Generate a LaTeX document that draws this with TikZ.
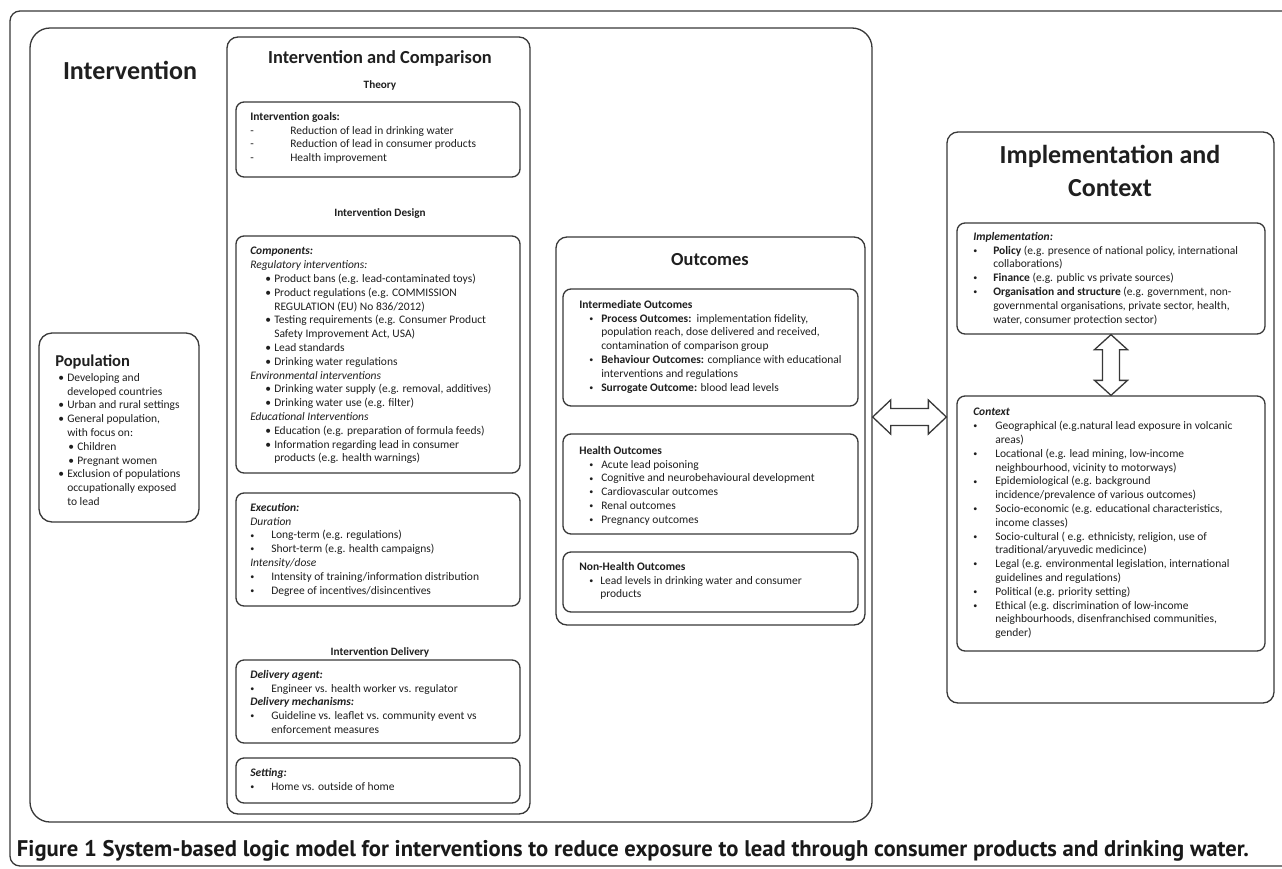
\documentclass[tikz,border=0pt]{standalone}
\usepackage{fontspec}
\setmainfont{Carlito}
\newfontfamily\capfont{PT Sans}
\usetikzlibrary{fit,calc}
\newdimen\px \px=0.75pt
\newcommand\Bul[3]{\hspace*{#1\px}\makebox[#2\px][l]{\textbullet}#3}
\newcommand\SBul[3]{\hspace*{#1\px}\makebox[#2\px][l]{\raisebox{0.6pt}{\scalebox{0.7}{\textbullet}}}#3}
\newcommand\Cont[2]{\hspace*{#1\px}#2}
\newcommand\Dash[1]{\makebox[40\px][l]{-}#1}
\tikzset{
  outline/.style={draw=black!78, line width=1.3\px},
  box/.style={outline, rounded corners=8\px, inner sep=0pt},
  bigbox/.style={outline, rounded corners=20\px, inner sep=0pt},
  midbox/.style={outline, rounded corners=11\px, inner sep=0pt},
  txt/.style={anchor=north west, inner sep=0pt, align=left, text=black!88,
    font=\fontsize{8.625pt}{10.35pt}\selectfont},
  subhd/.style={inner sep=0pt, text=black!88, font=\bfseries\fontsize{8.4pt}{10pt}\selectfont},
  midhd/.style={inner sep=0pt, text=black!88, font=\bfseries\fontsize{13.8pt}{16pt}\selectfont},
  bighd/.style={inner sep=0pt, text=black!88, align=center, font=\bfseries\fontsize{19.5pt}{24.75pt}\selectfont},
  arrowshape/.style={outline, fill=white, line join=miter},
}
\begin{document}
\begin{tikzpicture}[x=0.75pt, y=-0.75pt]
\useasboundingbox (0,0) rectangle (1282,868);
\fill[white] (0,0) rectangle (1282,868);
\clip (0,0) rectangle (1282,868);

% outer frame
\node[outline, rounded corners=10\px, inner sep=0pt, fit={(10,11) (1320,866)}] (frame) {};

% Intervention big box
\node[bigbox, fit={(30,28) (872,822)}] (interv) {};
\node[bighd] (intervtitle) at (130,70) {Intervention};

% Population
\node[box, rounded corners=13\px, fit={(39,333) (199,522)}] (pop) {};
\node[anchor=north west, inner sep=0pt, text=black!88, font=\bfseries\fontsize{12.4pt}{14pt}\selectfont] (poptitle) at (55,355) {Population};
\node[txt] (poptxt) at (58,373) {\Bul{0}{9}{Developing and}\\ \Cont{9}{developed countries}\\ \Bul{0}{9}{Urban and rural settings}\\ \Bul{0}{9}{General population,}\\ \Cont{9}{with focus on:}\\ \Bul{10}{9}{Children}\\ \Bul{10}{9}{Pregnant women}\\ \Bul{0}{9}{Exclusion of populations}\\ \Cont{9}{occupationally exposed}\\ \Cont{9}{to lead}};

% Intervention and Comparison
\node[midbox, fit={(227,37) (530,814)}] (comp) {};
\node[midhd] (comptitle) at (380,58) {Intervention and Comparison};
\node[subhd] (theory) at (380,85) {Theory};
\node[box, fit={(236,102) (520,177)}] (goals) {};
\node[txt] (goalstxt) at (250,112) {\textbf{Intervention goals:}\\ \Dash{Reduction of lead in drinking water}\\ \Dash{Reduction of lead in consumer products}\\ \Dash{Health improvement}};
\node[subhd] (design) at (380,214) {Intervention Design};
\node[box, fit={(236,236) (520,473)}] (compo) {};
\node[txt] (compotxt) at (250,247) {\textbf{\textit{Components:}}\\
\textit{Regulatory interventions:}\\
\Bul{15}{9}{Product bans (e.g. lead-contaminated toys)}\\
\Bul{15}{9}{Product regulations (e.g. COMMISSION}\\
\Cont{24}{REGULATION (EU) No 836/2012)}\\
\Bul{15}{9}{Testing requirements (e.g. Consumer Product}\\
\Cont{24}{Safety Improvement Act, USA)}\\
\Bul{15}{9}{Lead standards}\\
\Bul{15}{9}{Drinking water regulations}\\
\textit{Environmental interventions}\\
\Bul{15}{9}{Drinking water supply (e.g. removal, additives)}\\
\Bul{15}{9}{Drinking water use (e.g. filter)}\\
\textit{Educational Interventions}\\
\Bul{15}{9}{Education (e.g. preparation of formula feeds)}\\
\Bul{15}{9}{Information regarding lead in consumer}\\
\Cont{24}{products (e.g. health warnings)}};
\node[box, fit={(236,493) (520,606)}] (exec) {};
\node[txt] (exectxt) at (250,503) {\textbf{\textit{Execution:}}\\
\textit{Duration}\\
\SBul{0}{21}{Long-term (e.g. regulations)}\\
\SBul{0}{21}{Short-term (e.g. health campaigns)}\\
\textit{Intensity/dose}\\
\SBul{0}{21}{Intensity of training/information distribution}\\
\SBul{0}{21}{Degree of incentives/disincentives}};
\node[subhd] (delivhd) at (380,652) {Intervention Delivery};
\node[box, fit={(236,660) (520,743)}] (deliv) {};
\node[txt] (delivtxt) at (250,670) {\textbf{\textit{Delivery agent:}}\\
\SBul{0}{21}{Engineer vs. health worker vs. regulator}\\
\textbf{\textit{Delivery mechanisms:}}\\
\SBul{0}{21}{Guideline vs. leaflet vs. community event vs}\\
\Cont{21}{enforcement measures}};
\node[box, fit={(236,758) (520,803)}] (setting) {};
\node[txt] (settingtxt) at (250,768) {\textbf{\textit{Setting:}}\\
\SBul{0}{21}{Home vs. outside of home}};

% Outcomes
\node[midbox, fit={(556,237) (865,625)}] (outc) {};
\node[midhd] (outctitle) at (710,260) {Outcomes};
\node[box, fit={(563,289) (858,406)}] (inter) {};
\node[txt] (intertxt) at (579,300) {\textbf{Intermediate Outcomes}\\
\SBul{10}{12}{\textbf{Process Outcomes:}\ \ implementation fidelity,}\\
\Cont{22}{population reach, dose delivered and received,}\\
\Cont{22}{contamination of comparison group}\\
\SBul{10}{12}{\textbf{Behaviour Outcomes:} compliance with educational}\\
\Cont{22}{interventions and regulations}\\
\SBul{10}{12}{\textbf{Surrogate Outcome:} blood lead levels}};
\node[box, fit={(563,434) (858,534)}] (health) {};
\node[txt] (healthtxt) at (579,446) {\textbf{Health Outcomes}\\
\SBul{10}{12}{Acute lead poisoning}\\
\SBul{10}{12}{Cognitive and neurobehavioural development}\\
\SBul{10}{12}{Cardiovascular outcomes}\\
\SBul{10}{12}{Renal outcomes}\\
\SBul{10}{12}{Pregnancy outcomes}};
\node[box, fit={(563,552) (858,612)}] (nonhealth) {};
\node[txt] (nonhealthtxt) at (579,562) {\textbf{Non-Health Outcomes}\\
\SBul{10}{11}{Lead levels in drinking water and consumer}\\
\Cont{21}{products}};

% Implementation and Context
\node[midbox, fit={(947,132) (1274,703)}] (rightbox) {};
\node[bighd] (righttitle) at (1110,171) {Implementation and\\Context};
\node[box, fit={(957,223) (1265,334)}] (impl) {};
\node[txt] (impltxt) at (973,232) {\textbf{\textit{Implementation:}}\\
\SBul{0}{20}{\textbf{Policy} (e.g. presence of national policy, international}\\
\Cont{20}{collaborations)}\\
\SBul{0}{20}{\textbf{Finance} (e.g. public vs private sources)}\\
\SBul{0}{20}{\textbf{Organisation and structure} (e.g. government, non-}\\
\Cont{20}{governmental organisations, private sector, health,}\\
\Cont{20}{water, consumer protection sector)}};
\node[box, fit={(957,396) (1265,651)}] (context) {};
\node[txt] (contexttxt) at (973,408) {\textbf{\textit{Context}}\\
\SBul{0}{22}{Geographical (e.g.natural lead exposure in volcanic}\\
\Cont{22}{areas)}\\
\SBul{0}{22}{Locational (e.g. lead mining, low-income}\\
\Cont{22}{neighbourhood, vicinity to motorways)}\\
\SBul{0}{22}{Epidemiological (e.g. background}\\
\Cont{22}{incidence/prevalence of various outcomes)}\\
\SBul{0}{22}{Socio-economic (e.g. educational characteristics,}\\
\Cont{22}{income classes)}\\
\SBul{0}{22}{Socio-cultural ( e.g. ethnicisty, religion, use of}\\
\Cont{22}{traditional/aryuvedic medicince)}\\
\SBul{0}{22}{Legal (e.g. environmental legislation, international}\\
\Cont{22}{guidelines and regulations)}\\
\SBul{0}{22}{Political (e.g. priority setting)}\\
\SBul{0}{22}{Ethical (e.g. discrimination of low-income}\\
\Cont{22}{neighbourhoods, disenfranchised communities,}\\
\Cont{22}{gender)}};

% double arrows
\coordinate (hy) at (0,417);
\coordinate (hA) at (interv.east |- hy);
\coordinate (hB) at (rightbox.west |- hy);
\draw[arrowshape] (hA) -- ++(18,-17) -- ++(0,8.5) -- ($(hB)+(-18,-8.5)$) -- ++(0,-8.5) -- (hB) -- ++(-18,17) -- ++(0,-8.5) -- ($(hA)+(18,8.5)$) -- ++(0,8.5) -- cycle;
\coordinate (vA) at (impl.south);
\coordinate (vB) at (context.north);
\draw[arrowshape] (vA) -- ++(16.5,15) -- ++(-8,0) -- ($(vB)+(8.5,-15)$) -- ++(8,0) -- (vB) -- ++(-16.5,-15) -- ++(8,0) -- ($(vA)+(-8.5,15)$) -- ++(-8,0) -- cycle;

% caption
\node[inner sep=0pt, text=black!90] (caption) at (633,851) {\resizebox{924pt}{!}{\capfont\bfseries\fontsize{14pt}{16pt}\selectfont Figure 1 System-based logic model for interventions to reduce exposure to lead through consumer products and drinking water.}};
\end{tikzpicture}
\end{document}
